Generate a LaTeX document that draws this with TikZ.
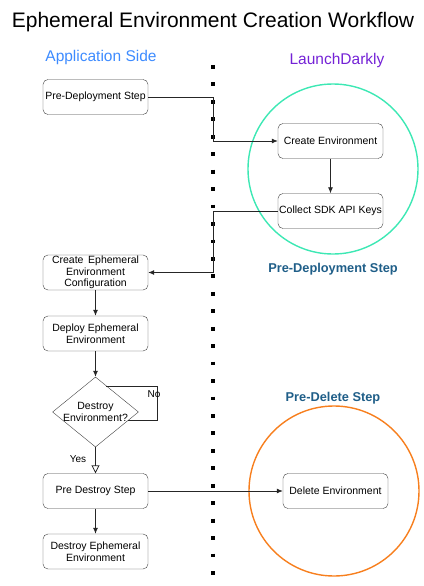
\documentclass[tikz,border=0pt]{standalone}
\usepackage{fontspec}
\setmainfont{Liberation Sans}
\usetikzlibrary{shapes.geometric,arrows.meta}
\definecolor{appblue}{HTML}{3D8BFF}
\definecolor{ldpurple}{HTML}{7422D6}
\definecolor{ldgreen}{HTML}{3DE8B4}
\definecolor{ldorange}{HTML}{F77F1E}
\definecolor{steptext}{HTML}{1F5E88}
\begin{document}
\begin{tikzpicture}[x=1pt,y=-1pt]

    \tikzset{stepbox/.style={draw=black!75,rounded corners=5pt,minimum width=105pt,minimum height=35pt,
        inner sep=1pt,align=center,font=\fontsize{10.5}{11.5}\selectfont}}
    \tikzset{decision/.style={draw=black!75,shape=diamond,minimum width=86pt,minimum height=70pt,
        inner sep=0pt,align=center,font=\fontsize{10.5}{11.5}\selectfont}}
    \tikzset{ring/.style={line width=1.4pt,shape=circle,minimum size=170pt}}
    \tikzset{phase/.style={text=steptext,font=\bfseries\fontsize{12.8}{14}\selectfont}}
    \useasboundingbox (0,0) rectangle (423,586);

    \node (title) at (213,22) {\fontsize{21}{24}\selectfont Ephemeral Environment Creation Workflow};
    \node[text=appblue,font=\fontsize{15.5}{18}\selectfont] (app) at (101,57) {Application Side};
    \node[text=ldpurple,font=\fontsize{15.5}{18}\selectfont] (ld) at (337,60) {LaunchDarkly};

    % separador
    \draw[line width=3.8pt,dash pattern=on 3.8pt off 13.65pt] (213,65) -- (213,576);

    \node[ring,draw=ldgreen] (ringdeploy) at (333,169) {};
    \node[ring,draw=ldorange] (ringdelete) at (334,491) {};
    \node[phase] (ph1) at (333,269) {Pre-Deployment Step};
    \node[phase] (ph2) at (333,398) {Pre-Delete Step};

    \node[stepbox] (pre) at (95.5,97) {Pre-Deployment Step};
    \node[stepbox] (create) at (330.5,141) {Create Environment};
    \node[stepbox] (keys) at (330.5,211) {Collect SDK API Keys};
    \node[stepbox] (config) at (95.5,272.5) {Create\, Ephemeral\\Environment\\Configuration};
    \node[stepbox] (deploy) at (95.5,333.5) {Deploy Ephemeral\\Environment};
    \node[decision,label={[align=center,font=\fontsize{10.5}{11.5}\selectfont]center:Destroy\\Environment?}]
        (destroy) at (95.5,412) {};
    \node[stepbox] (predestroy) at (95.5,491) {Pre Destroy Step};
    \node[stepbox] (delete) at (335.5,491) {Delete Environment};
    \node[stepbox] (final) at (95.5,551.5) {Destroy Ephemeral\\Environment};

    \coordinate (loopin) at (106,386);
    \coordinate (loopout) at (128,420);

    \begin{scope}[every path/.style={-{Latex[length=6pt,width=5pt]},draw=black!85,line width=0.8pt}]
        \draw (pre.east) -- (213,97) |- (create.west);
        \draw (create) -- (keys);
        \draw (keys.west) -- (213,211) |- (config.east);
        \draw (config) -- (deploy);
        \draw (deploy) -- (destroy);
        \draw (predestroy) -- (delete);
        \draw (predestroy) -- (final);
    \end{scope}

    \draw[draw=black!85,line width=0.8pt] (loopin) -- (157,386) -- (157,420) -- (loopout);
    \draw[draw=black!85,line width=0.8pt,-{Triangle[open,length=8pt,width=8pt]}] (destroy.south) -- (predestroy.north);

    \node[font=\fontsize{10}{11}\selectfont] (no) at (154,394) {No};
    \node[font=\fontsize{10}{11}\selectfont] (yes) at (78,459) {Yes};
\end{tikzpicture}
\end{document}
